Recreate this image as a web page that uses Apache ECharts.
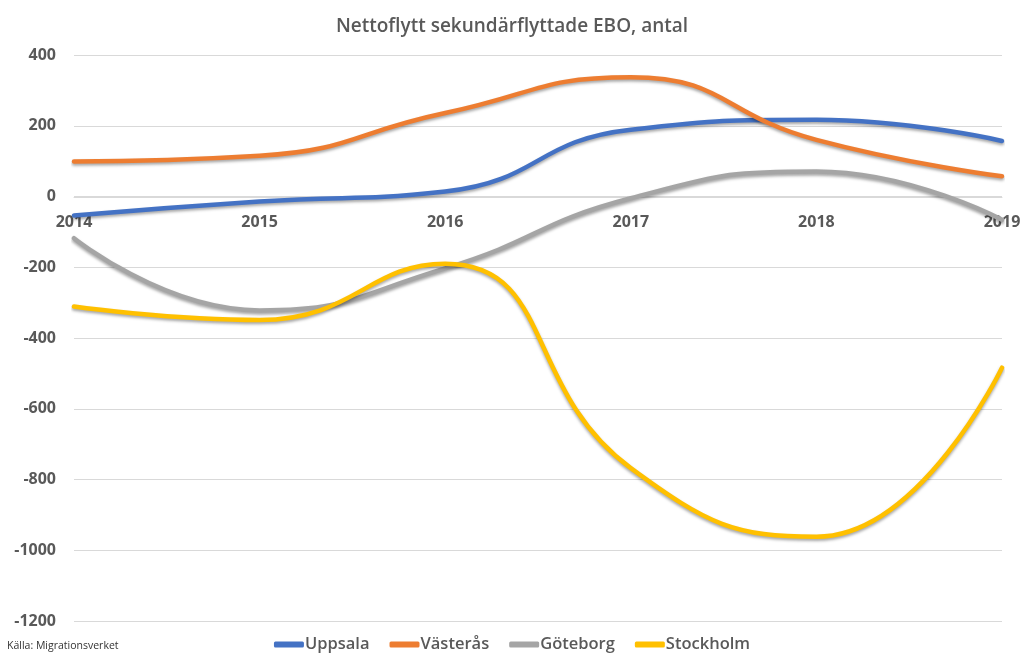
<!DOCTYPE html>
<html>
<head>
<meta charset="utf-8">
<script src="https://cdn.jsdelivr.net/npm/echarts@6/dist/echarts.min.js"></script>
<style>
  html, body { margin: 0; padding: 0; background: #fff; }
  #chart { width: 1024px; height: 655px; }
</style>
</head>
<body>
<div id="chart"></div>
<script>
// data
var years = ['2014', '2015', '2016', '2017', '2018', '2019'];
var uppsala = [-54, -14, 14, 189, 217, 157];
var vasteras = [99, 115, 236, 337, 160, 57];
var goteborg = [-118, -322, -203, -5, 71, -66];
var stockholm = [-311, -349, -190, -768, -962, -484];

var chart = echarts.init(document.getElementById('chart'));

function line(name, data, color) {
  return {
    name: name,
    type: 'line',
    data: data,
    smooth: 0.5,
    symbol: 'none',
    lineStyle: {
      color: color,
      width: 4.5,
      cap: 'round',
      shadowColor: 'rgba(0,0,0,0.35)',
      shadowBlur: 3,
      shadowOffsetY: 2
    },
    itemStyle: { color: color }
  };
}

var option = {
  backgroundColor: '#fff',
  textStyle: { fontFamily: 'Open Sans' },
  title: {
    text: 'Nettoflytt sekundärflyttade EBO, antal',
    left: 'center',
    top: 12,
    textStyle: { fontSize: 19, fontWeight: 600, color: '#595959', fontFamily: 'Open Sans' }
  },
  legend: {
    top: 631,
    left: 'center',
    itemWidth: 30,
    itemHeight: 6,
    itemGap: 20,
    icon: 'roundRect',
    textStyle: { fontSize: 16.5, fontWeight: 600, color: '#595959', padding: [0, 0, 0, -4] },
    data: ['Uppsala', 'Västerås', 'Göteborg', 'Stockholm']
  },
  graphic: [{
    type: 'text',
    left: 7,
    bottom: 3,
    style: { text: 'Källa: Migrationsverket', fontSize: 10.5, fill: '#333', fontFamily: 'Open Sans' }
  }],
  grid: { left: 74, right: 22, top: 55, bottom: 34 },
  xAxis: {
    type: 'category',
    data: years,
    boundaryGap: false,
    position: 'bottom',
    offset: -424,
    axisLine: { onZero: false, lineStyle: { color: '#d9d9d9' } },
    axisTick: { show: false },
    axisLabel: { fontSize: 16, fontWeight: 'bold', color: '#595959', margin: 17 }
  },
  yAxis: {
    type: 'value',
    min: -1200,
    max: 400,
    interval: 200,
    axisLine: { show: false },
    axisTick: { show: false },
    splitLine: { lineStyle: { color: '#d9d9d9', width: 1 } },
    axisLabel: {
      fontSize: 16, fontWeight: 'bold', color: '#595959', margin: 18,
      formatter: function (v) { return String(v); }
    }
  },
  series: [
    line('Uppsala', uppsala, '#4472C4'),
    line('Västerås', vasteras, '#ED7D31'),
    line('Göteborg', goteborg, '#A5A5A5'),
    line('Stockholm', stockholm, '#FFC000')
  ]
};

chart.setOption(option);
</script>
</body>
</html>
